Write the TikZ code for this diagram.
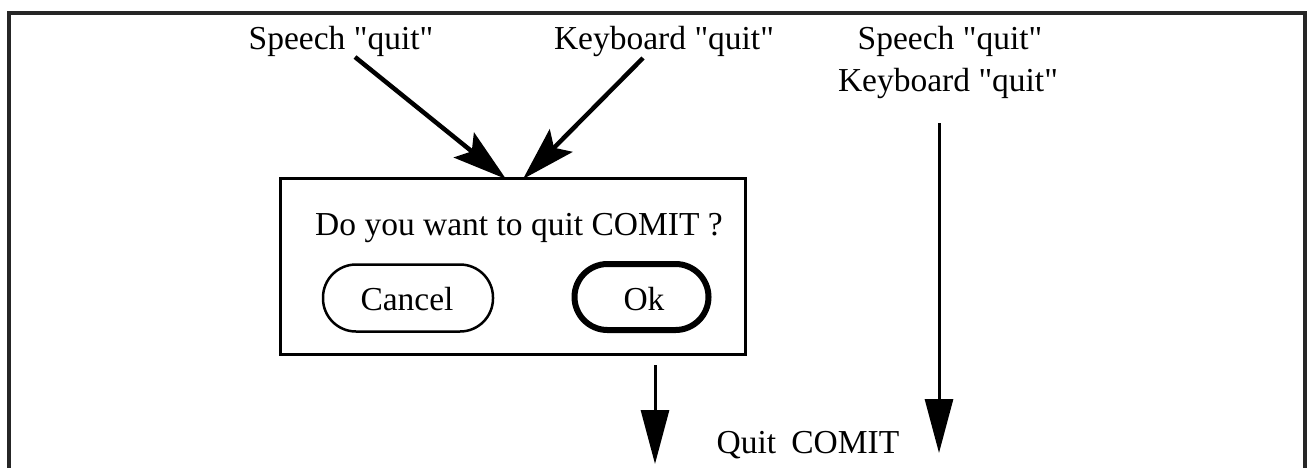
\documentclass[tikz,border=0pt]{standalone}
\usepackage{fontspec}
\setmainfont{Liberation Serif}[Ligatures=TeXOff]
\usetikzlibrary{arrows.meta}
\begin{document}
\begin{tikzpicture}[x=1pt,y=-1pt,
  lbl/.style={anchor=base,inner sep=0pt,font=\fontsize{33.5}{42}\selectfont},
  btn/.style={draw,rounded corners=33pt,inner sep=0pt},
  diagarrow/.style={line width=4.5pt,-{Stealth[length=54pt,width=32pt,inset=10pt]}},
  vertarrow/.style={line width=3pt,-{Triangle[length=54pt,width=28pt]}}]
\useasboundingbox (0,0) rectangle (1311,467);
\clip (0,0) rectangle (1311,467);
% outer frame (bottom cut off)
\draw[line width=3.5pt,black!85] (9,490) -- (9,13) -- (1305,13) -- (1305,490);
% labels
\node[lbl] (sp1) at (341,49) {Speech "quit"};
\node[lbl] (kb1) at (664,49) {Keyboard "quit"};
\node[lbl] (sp2) at (950,49) {Speech "quit"};
\node[lbl] (kb2) at (948,91) {Keyboard "quit"};
% dialog
\node[draw,line width=3pt,minimum width=465pt,minimum height=176pt,inner sep=0pt] (dlg) at (512.5,266) {};
\node[lbl] (q) at (519,235) {Do you want to quit COMIT ?};
\node[btn,line width=2.5pt,minimum width=170pt,minimum height=67pt] (cancel) at (408,298) {};
\node[lbl] (canceltxt) at (407,310) {Cancel};
\node[btn,line width=6pt,minimum width=134pt,minimum height=66pt] (ok) at (641.5,297) {};
\node[lbl] (oktxt) at (644,310) {Ok};
\node[lbl] (quit) at (808,453) {Quit\hspace{0.45em}COMIT};
% arrow end points
\coordinate (s1) at (355,57);
\coordinate (k1) at (643,58);
\coordinate (t1) at (506,179);
\coordinate (t2) at (523,179);
\coordinate (o1) at (655,365);
\coordinate (o2) at (655,464);
\coordinate (r1) at (939,123);
\coordinate (r2) at (939,453);
\draw[diagarrow] (s1) -- (t1);
\draw[diagarrow] (k1) -- (t2);
\draw[vertarrow] (o1) -- (o2);
\draw[vertarrow] (r1) -- (r2);
\end{tikzpicture}
\end{document}
